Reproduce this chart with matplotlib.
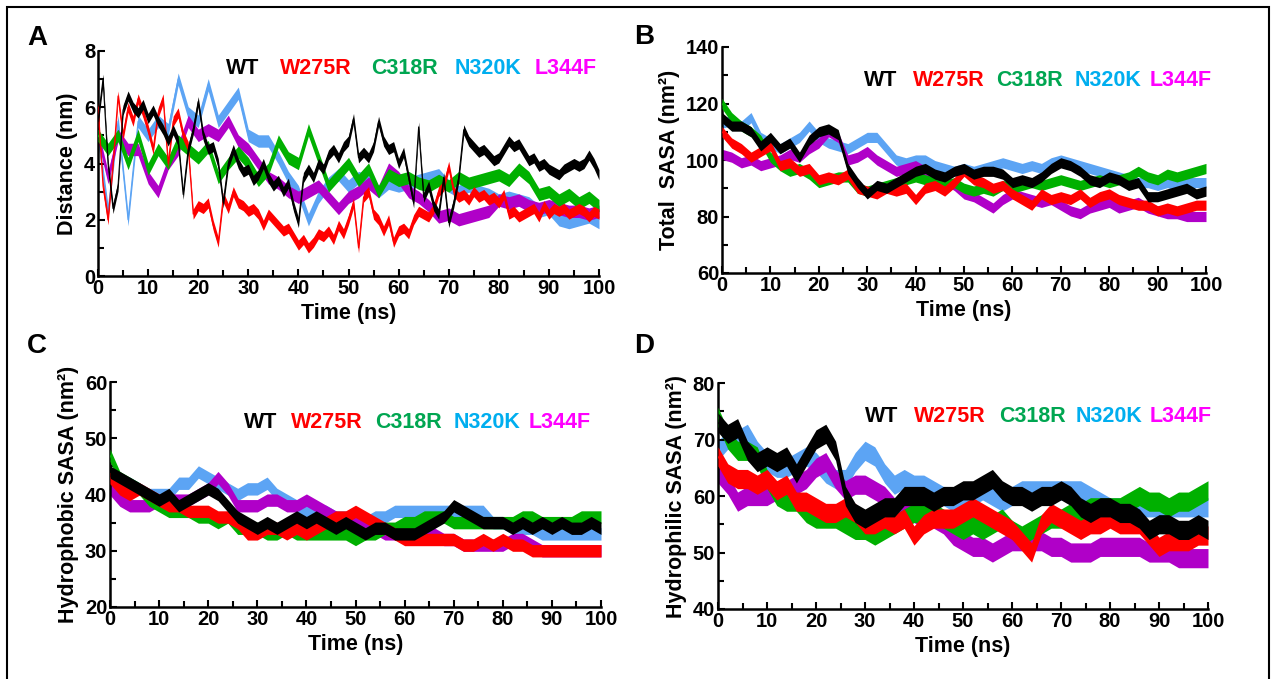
import numpy as np
import matplotlib
matplotlib.use("Agg")
import matplotlib.pyplot as plt
from matplotlib.patches import Rectangle
from matplotlib.ticker import MultipleLocator

plt.rcParams['font.family'] = ['Liberation Sans', 'DejaVu Sans']
plt.rcParams['font.weight'] = 'bold'
plt.rcParams['axes.labelweight'] = 'bold'

W, H = 1272, 679

SERIES = ["WT", "W275R", "C318R", "N320K", "L344F"]
LINE_COLORS = ["#000000", "#FF0000", "#00B000", "#5CA4F4", "#B000C8"]
TEXT_COLORS = ["#000000", "#FF0000", "#00A651", "#00AEEF", "#FF00FF"]
ZORDERS = [5, 4, 3, 1, 2]

# ---------------- Panel A: Distance (nm) ----------------
A_WT = [5.5, 7.0, 4.0, 2.4, 3.2, 5.9, 6.4, 6.0, 5.8, 6.1, 5.6, 5.9, 5.5, 5.2, 4.8, 5.2, 4.8, 2.9, 4.5, 5.2,
        6.2, 5.0, 4.5, 4.6, 4.0, 2.6, 4.0, 4.5, 4.0, 3.7, 3.8, 3.4, 3.6, 4.0, 3.5, 3.2, 3.4, 3.0, 3.3, 2.5,
        1.9, 3.5, 3.8, 3.5, 4.0, 3.8, 4.3, 4.5, 4.2, 4.6, 4.8, 5.6, 4.2, 4.4, 4.2, 4.6, 5.5, 4.8, 4.5, 4.6,
        4.0, 4.4, 3.5, 2.6, 5.3, 2.8, 3.2, 2.5, 2.2, 3.5, 1.9, 2.6, 3.5, 5.2, 4.8, 4.6, 4.4, 4.5, 4.3, 4.1,
        4.2, 4.5, 4.8, 4.6, 4.7, 4.4, 4.1, 4.2, 3.9, 4.0, 3.8, 3.7, 3.6, 3.8, 3.9, 4.0, 3.9, 4.0, 4.3, 4.0, 3.6]
A_W275R = [6.0, 3.2, 2.0, 4.0, 6.4, 5.0, 6.0, 5.5, 6.3, 5.8, 5.2, 4.5, 5.8, 6.3, 4.0, 5.5, 5.8, 5.0, 4.6, 2.2,
           2.5, 2.4, 2.6, 1.8, 1.2, 2.8, 2.4, 3.0, 2.6, 2.5, 2.3, 2.4, 2.2, 1.8, 2.2, 2.0, 1.8, 1.6, 1.7, 1.4,
           1.1, 1.3, 1.0, 1.2, 1.5, 1.4, 1.6, 1.3, 1.8, 1.5, 2.0, 2.6, 1.0, 2.8, 3.0, 2.2, 2.0, 1.6, 2.0, 1.2,
           1.6, 1.7, 1.5, 2.0, 2.3, 2.2, 2.1, 2.4, 3.0, 3.2, 3.9, 3.0, 2.8, 2.9, 2.7, 3.0, 2.8, 2.9, 2.7, 2.8,
           2.6, 2.9, 2.2, 2.3, 2.1, 2.2, 2.3, 2.4, 2.1, 2.5, 2.2, 2.4, 2.3, 2.4, 2.2, 2.3, 2.4, 2.3, 2.1, 2.3, 2.2]
A_C318R = [5.0, 4.5, 5.0, 4.0, 5.0, 3.8, 4.5, 4.0, 4.8, 4.5, 4.2, 4.6, 3.5, 4.0, 4.4, 4.0, 3.4, 3.8, 4.8, 4.2,
           4.0, 5.2, 4.2, 3.2, 3.6, 4.0, 3.4, 3.8, 3.0, 3.6, 3.4, 3.5, 3.3, 3.2, 3.4, 3.2, 3.5, 3.3, 3.4, 3.5,
           3.6, 3.4, 3.8, 3.5, 2.9, 3.0, 2.7, 2.9, 2.6, 2.8, 2.5]
A_N320K = [5.0, 2.3, 5.5, 2.0, 5.5, 5.0, 5.5, 5.2, 7.0, 5.8, 5.5, 6.8, 5.5, 6.0, 6.5, 5.0, 4.8, 4.8, 4.2, 3.5,
           3.0, 2.0, 2.8, 3.3, 3.6, 3.2, 3.5, 3.4, 3.0, 3.3, 3.2, 3.3, 3.4, 3.5, 3.6, 3.2, 3.0, 3.2, 3.0, 2.9,
           2.7, 2.8, 2.7, 2.6, 2.3, 2.4, 2.0, 1.9, 2.0, 2.1, 1.9]
A_L344F = [5.0, 3.5, 5.0, 4.5, 4.5, 3.5, 3.0, 4.0, 4.5, 5.5, 5.0, 5.2, 5.0, 5.5, 4.8, 4.5, 4.0, 3.5, 3.3, 3.0,
           2.8, 3.0, 3.2, 2.8, 2.4, 2.8, 3.0, 3.3, 3.0, 3.8, 3.5, 3.0, 2.8, 2.5, 2.1, 2.2, 2.0, 2.1, 2.2, 2.3,
           2.7, 2.6, 2.7, 2.5, 2.4, 2.5, 2.4, 2.3, 2.3, 2.2, 2.3]
A_NOISE = [0.18, 0.18, 0.22, 0.22, 0.22]

# ---------------- Panel B: Total SASA ----------------
B_WT = [115, 112, 112, 110, 105, 108, 104, 106, 101, 107, 110, 111, 109, 97, 92, 88, 91, 90, 92, 94,
        96, 97, 95, 94, 96, 97, 95, 96, 96, 95, 92, 93, 92, 94, 97, 99, 98, 96, 93, 92,
        94, 93, 91, 92, 87, 87, 88, 89, 90, 88, 89]
B_W275R = [110, 106, 104, 101, 103, 105, 98, 99, 96, 97, 93, 94, 93, 95, 90, 89, 88, 90, 89, 90,
           86, 90, 91, 89, 92, 96, 93, 92, 90, 91, 88, 86, 84, 88, 86, 87, 86, 88, 85, 87,
           88, 86, 85, 84, 84, 82, 83, 82, 83, 84, 84]
B_C318R = [120, 115, 112, 110, 107, 101, 98, 96, 97, 95, 92, 93, 94, 94, 90, 89, 90, 91, 92, 93,
           94, 93, 92, 91, 92, 90, 89, 90, 89, 91, 90, 91, 92, 91, 92, 93, 92, 91, 92, 93,
           92, 93, 94, 96, 94, 93, 95, 94, 95, 96, 97]
B_N320K = [113, 114, 112, 115, 108, 106, 104, 106, 108, 112, 108, 106, 105, 104, 106, 108, 108, 104, 100, 99,
           100, 100, 98, 97, 96, 97, 96, 97, 98, 99, 98, 97, 98, 97, 99, 100, 99, 98, 97, 96,
           95, 94, 93, 92, 92, 91, 92, 91, 92, 92, 92]
B_L344F = [102, 101, 99, 100, 98, 99, 100, 102, 101, 104, 106, 110, 108, 100, 101, 103, 100, 98, 96, 97,
           98, 96, 94, 93, 91, 88, 87, 85, 83, 86, 88, 87, 86, 85, 86, 84, 82, 81, 83, 84,
           85, 83, 84, 85, 83, 82, 81, 81, 80, 80, 80]
B_NOISE = [1.8, 1.8, 1.8, 1.8, 1.8]

# ---------------- Panel C: Hydrophobic SASA ----------------
C_WT = [44, 43, 42, 41, 40, 39, 40, 38, 39, 40, 41, 40, 38, 36, 35, 34, 35, 34, 35, 36,
        35, 36, 35, 34, 35, 34, 33, 34, 34, 33, 33, 33, 34, 35, 36, 38, 37, 36, 35, 35,
        35, 34, 35, 34, 35, 34, 35, 34, 34, 35, 34]
C_W275R = [43, 41, 40, 41, 40, 39, 38, 38, 37, 37, 37, 36, 36, 35, 33, 33, 34, 34, 33, 34,
           33, 34, 35, 36, 36, 37, 36, 35, 34, 33, 32, 32, 32, 32, 32, 32, 31, 31, 32, 31,
           32, 31, 31, 30, 30, 30, 30, 30, 30, 30, 30]
C_C318R = [47, 43, 42, 41, 39, 38, 37, 37, 37, 36, 36, 35, 36, 34, 34, 34, 33, 33, 34, 33,
           33, 33, 33, 33, 33, 32, 33, 33, 34, 34, 35, 35, 36, 36, 36, 35, 35, 35, 35, 35,
           35, 35, 36, 36, 35, 35, 35, 35, 36, 36, 36]
C_N320K = [43, 42, 42, 41, 40, 40, 40, 42, 42, 44, 43, 42, 41, 40, 41, 41, 42, 40, 39, 38,
           37, 37, 37, 36, 36, 36, 35, 36, 36, 37, 37, 37, 37, 37, 37, 37, 37, 37, 37, 35,
           35, 34, 34, 34, 33, 33, 33, 33, 33, 33, 33]
C_L344F = [41, 39, 38, 38, 38, 39, 39, 39, 39, 40, 41, 43, 41, 38, 38, 38, 39, 39, 38, 38,
           39, 38, 37, 36, 35, 35, 35, 34, 33, 33, 33, 33, 33, 33, 32, 32, 31, 31, 31, 31,
           31, 32, 32, 31, 30, 30, 30, 30, 30, 30, 30]
C_NOISE = [1.1, 1.1, 1.1, 1.1, 1.1]

# ---------------- Panel D: Hydrophilic SASA ----------------
D_WT = [73, 71, 72, 68, 66, 67, 66, 67, 64, 67, 70, 71, 68, 60, 57, 56, 57, 58, 58, 60,
        60, 60, 59, 60, 60, 61, 61, 62, 63, 61, 60, 60, 59, 60, 60, 61, 60, 58, 57, 58,
        58, 57, 57, 56, 54, 55, 55, 54, 54, 55, 54]
D_W275R = [67, 64, 63, 63, 62, 63, 61, 62, 59, 59, 58, 57, 57, 58, 57, 55, 55, 56, 55, 56,
           53, 55, 56, 56, 56, 57, 58, 57, 56, 55, 54, 52, 50, 55, 57, 56, 55, 54, 55, 55,
           56, 55, 55, 55, 53, 51, 52, 52, 52, 53, 53]
D_C318R = [74, 70, 68, 68, 67, 63, 60, 59, 59, 57, 56, 56, 56, 55, 54, 54, 53, 54, 55, 56,
           57, 57, 57, 56, 55, 54, 55, 54, 55, 56, 54, 53, 54, 55, 56, 56, 57, 57, 58, 58,
           58, 58, 59, 60, 59, 59, 58, 59, 59, 60, 61]
D_N320K = [68, 70, 70, 71, 68, 66, 65, 65, 66, 67, 66, 64, 63, 63, 66, 68, 67, 64, 62, 63,
           62, 62, 61, 60, 59, 60, 60, 61, 60, 59, 60, 61, 61, 61, 61, 61, 61, 61, 60, 59,
           58, 58, 58, 58, 58, 58, 58, 58, 58, 58, 58]
D_L344F = [64, 62, 59, 60, 60, 60, 61, 61, 62, 63, 65, 66, 63, 61, 62, 62, 61, 60, 58, 57,
           57, 56, 56, 55, 53, 52, 51, 51, 50, 51, 52, 52, 52, 52, 51, 51, 50, 50, 50, 51,
           51, 51, 51, 51, 50, 50, 50, 49, 49, 49, 49]
D_NOISE = [1.7, 1.7, 1.7, 1.7, 1.7]

# layout (pixel positions of the reference)
PANELS = [
    dict(letter="A", data=[A_WT, A_W275R, A_C318R, A_N320K, A_L344F], noise=A_NOISE,
         ylim=(0, 8), ymajor=2, yminor=1, ylabel="Distance (nm)",
         box=(98, 599, 51, 276), leg_x=[226, 280, 371, 455, 535], leg_y=68, letter_px=(27, 38)),
    dict(letter="B", data=[B_WT, B_W275R, B_C318R, B_N320K, B_L344F], noise=B_NOISE,
         ylim=(60, 140), ymajor=20, yminor=10, ylabel="Total  SASA (nm²)",
         box=(722, 1206, 47, 273), leg_x=[864, 913, 996, 1075, 1150], leg_y=80, letter_px=(634, 37)),
    dict(letter="C", data=[C_WT, C_W275R, C_C318R, C_N320K, C_L344F], noise=C_NOISE,
         ylim=(20, 60), ymajor=10, yminor=5, ylabel="Hydrophobic SASA (nm²)",
         box=(110, 601, 382, 607), leg_x=[244, 291, 375, 454, 529], leg_y=422, letter_px=(27, 346)),
    dict(letter="D", data=[D_WT, D_W275R, D_C318R, D_N320K, D_L344F], noise=D_NOISE,
         ylim=(40, 80), ymajor=10, yminor=5, ylabel="Hydrophilic SASA (nm²)",
         box=(718, 1208, 383, 609), leg_x=[865, 914, 999, 1076, 1150], leg_y=416, letter_px=(634, 346)),
]

fig = plt.figure(figsize=(W / 100, H / 100), dpi=100)

for p in PANELS:
    x0, x1, y0, y1 = p["box"]
    ax = fig.add_axes([x0 / W, 1 - y1 / H, (x1 - x0) / W, (y1 - y0) / H])
    for i, vals in enumerate(p["data"]):
        v = np.asarray(vals, dtype=float)
        t = np.linspace(0, 100, len(v))
        n = p["noise"][i]
        ax.fill_between(t, v - n, v + n, color=LINE_COLORS[i], lw=0, zorder=ZORDERS[i])
        ax.plot(t, v, color=LINE_COLORS[i], lw=0.8, zorder=ZORDERS[i])
    ax.set_xlim(0, 100)
    ax.set_ylim(*p["ylim"])
    ax.xaxis.set_major_locator(MultipleLocator(10))
    ax.xaxis.set_minor_locator(MultipleLocator(5))
    ax.yaxis.set_major_locator(MultipleLocator(p["ymajor"]))
    ax.yaxis.set_minor_locator(MultipleLocator(p["yminor"]))
    for s in ["top", "right"]:
        ax.spines[s].set_visible(False)
    for s in ["left", "bottom"]:
        ax.spines[s].set_linewidth(1.8)
    ax.tick_params(which="major", direction="in", length=5, width=1.5, labelsize=14.5, pad=2)
    ax.tick_params(which="minor", direction="in", length=4, width=1.5)
    for lab in ax.get_xticklabels() + ax.get_yticklabels():
        lab.set_fontweight("bold")
    ax.set_xlabel("Time (ns)", fontsize=15.5, fontweight="bold", labelpad=4)
    ax.set_ylabel(p["ylabel"], fontsize=15.5, fontweight="bold", labelpad=4)
    for i, name in enumerate(SERIES):
        fig.text(p["leg_x"][i] / W, 1 - p["leg_y"] / H, name, color=TEXT_COLORS[i],
                 fontsize=15.5, fontweight="bold", ha="left", va="center", zorder=10)
    fig.text(p["letter_px"][0] / W, 1 - p["letter_px"][1] / H, p["letter"], fontsize=20,
             fontweight="bold", ha="left", va="center")

# outer frame
fig.patches.append(Rectangle((7 / W, -0.05), (1269 - 7) / W, 1 - 7 / H + 0.05,
                             transform=fig.transFigure, fill=False, edgecolor="black", lw=1.5))

fig.savefig("out.png", dpi=100)
